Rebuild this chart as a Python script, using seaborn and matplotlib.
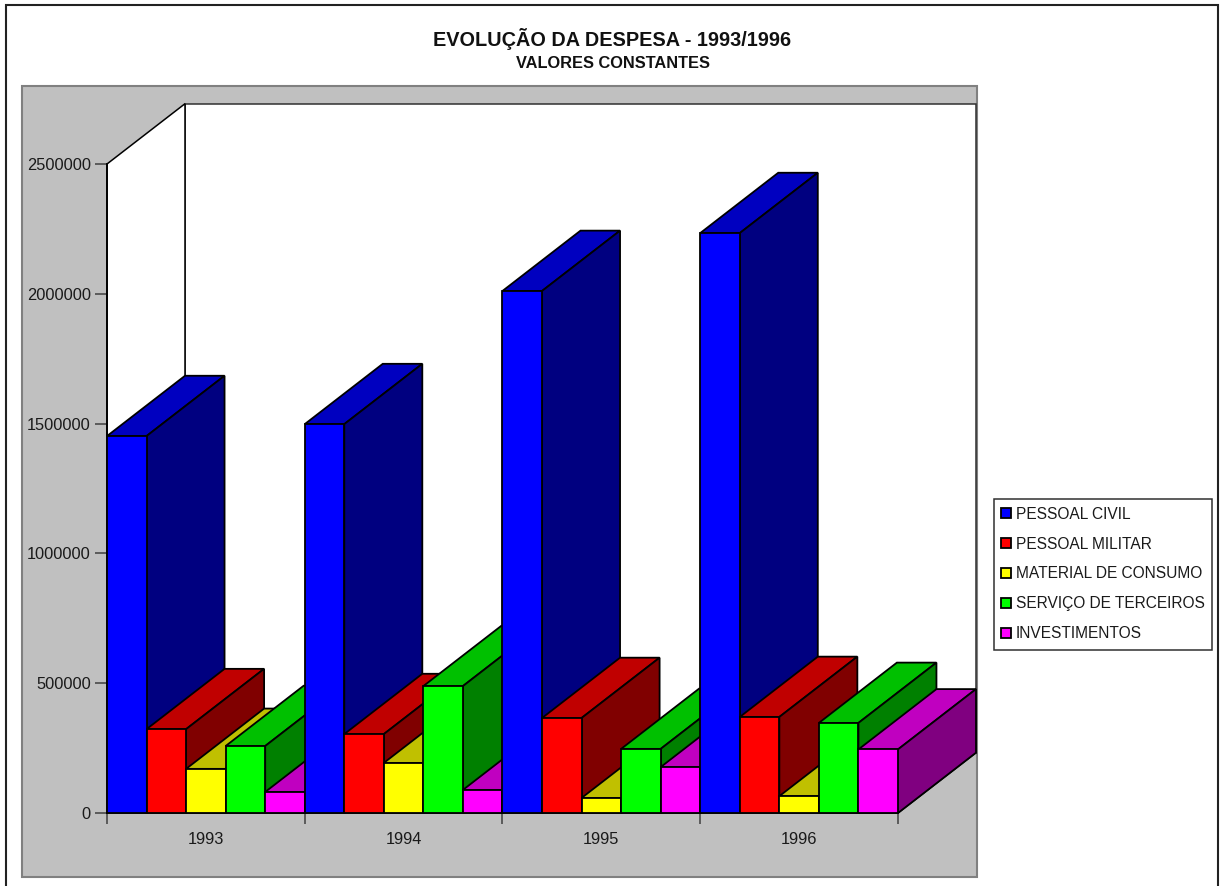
import matplotlib
matplotlib.use("Agg")
import matplotlib.pyplot as plt
from matplotlib.patches import Patch, Polygon, Rectangle
import pandas as pd
import seaborn as sns

years = ["1993", "1994", "1995", "1996"]
series_names = ["PESSOAL CIVIL", "PESSOAL MILITAR", "MATERIAL DE CONSUMO",
                "SERVIÇO DE TERCEIROS", "INVESTIMENTOS"]
pessoal_civil = [1452000, 1498000, 2011000, 2234000]
pessoal_militar = [323000, 304000, 366000, 370000]
material_consumo = [170000, 193000, 58000, 65000]
servico_terceiros = [258000, 489000, 247000, 347000]
investimentos = [81000, 89000, 177000, 245000]
y_ticks = [0, 500000, 1000000, 1500000, 2000000, 2500000]

front_colors = ["#0000FF", "#FF0000", "#FFFF00", "#00FF00", "#FF00FF"]
top_colors = ["#0000C0", "#C00000", "#C0C000", "#00C000", "#C000C0"]
side_colors = ["#000080", "#800000", "#808000", "#008000", "#800080"]
GREY = "#C0C0C0"
W, H = 1220, 886
INK = "#1a1a1a"
LW = 1.3

sns.set_theme(style="white")
plt.rcParams["font.family"] = ["Liberation Sans", "DejaVu Sans"]

df = pd.DataFrame({
    "ano": years * 5,
    "serie": [n for n in series_names for _ in years],
    "valor": pessoal_civil + pessoal_militar + material_consumo
             + servico_terceiros + investimentos,
})

fig = plt.figure(figsize=(W / 100, H / 100), dpi=100, facecolor="white")


def fx(px):
    return px / W


def fy(py):
    return 1 - py / H


def panel(x0, y0, x1, y1, **kw):
    fig.add_artist(Rectangle((fx(x0), fy(y1)), fx(x1) - fx(x0), fy(y0) - fy(y1),
                             transform=fig.transFigure, zorder=-1, **kw))


# outer chart frame, grey plot panel and legend box
panel(6, 5, 1218, 900, facecolor="white", edgecolor="#222222", linewidth=1.5)
panel(22, 86, 977, 877, facecolor=GREY, edgecolor="#808080", linewidth=1.5)
panel(994, 499, 1212, 650, facecolor="white", edgecolor="#303030", linewidth=1.1)

ax = fig.add_axes([fx(107), fy(813), fx(898) - fx(107), fy(164) - fy(813)])
ax.patch.set_visible(False)

sns.barplot(data=df, x="ano", y="valor", hue="serie", order=years,
            hue_order=series_names, palette=front_colors, saturation=1,
            width=1, gap=0, dodge=True, errorbar=None, edgecolor="black",
            linewidth=LW, legend=False, ax=ax)
ax.set_xlim(-0.5, 3.5)
ax.set_ylim(0, 2500000)
ax.set_xlabel("")
ax.set_ylabel("")

# receding depth of the pseudo-3D box, in data units
dx = 78 / (791 / 4)
dy = 60.3 / (649 / 2500000)
x0, x1 = -0.5, 3.5
ymax = 2500000


def face(points, color, z, edge="black", lw=LW):
    ax.add_patch(Polygon(points, closed=True, facecolor=color, edgecolor=edge,
                         linewidth=lw, zorder=z, clip_on=False,
                         joinstyle="miter"))


# white walls behind the bars and the grey floor
face([(x0 + dx, dy), (x1 + dx, dy), (x1 + dx, ymax + dy), (x0 + dx, ymax + dy)],
     "white", 0.5, edge="#303030", lw=1.1)
face([(x0, 0), (x0 + dx, dy), (x0 + dx, ymax + dy), (x0, ymax)], "white", 0.6, lw=1.1)
face([(x0, 0), (x1, 0), (x1 + dx, dy), (x0 + dx, dy)], GREY, 0.7, lw=1.1)

# each bar gets a top and a side face; later bars paint over earlier ones
for s, container in enumerate(ax.containers):
    for bar in container:
        left = bar.get_x()
        right = left + bar.get_width()
        top = bar.get_height()
        z = 3 + left
        bar.set_zorder(z + 0.02)
        face([(left, top), (right, top), (right + dx, top + dy), (left + dx, top + dy)],
             top_colors[s], z)
        face([(right, 0), (right + dx, dy), (right + dx, top + dy), (right, top)],
             side_colors[s], z + 0.01)

# value axis
ax.set_yticks(y_ticks, [str(v) for v in y_ticks])
ax.tick_params(axis="y", length=8.6, width=1.1, color="#404040", pad=3,
               labelsize=11.8, labelcolor=INK, left=True)

# category labels sit at the group centres, tick marks at the boundaries
ax.set_xticks(range(len(years)), years)
ax.tick_params(axis="x", which="major", length=0, pad=13.7, labelsize=11.8,
               labelcolor=INK)
ax.set_xticks([-0.5, 0.5, 1.5, 2.5, 3.5], minor=True)
ax.tick_params(axis="x", which="minor", length=8, width=1.1, color="#404040",
               bottom=True)

for name, spine in ax.spines.items():
    spine.set_visible(name in ("left", "bottom"))
    spine.set_color("black")
    spine.set_linewidth(LW)

fig.text(fx(612.5), fy(39), "EVOLUÇÃO DA DESPESA - 1993/1996", ha="center",
         va="center", fontsize=14.35, fontweight="bold", color="#111111")
fig.text(fx(613), fy(64), "VALORES CONSTANTES", ha="center", va="center",
         fontsize=11.8, fontweight="bold", color="#111111")

handles = [Patch(facecolor=c, edgecolor="black", linewidth=1.3, label=n)
           for c, n in zip(front_colors, series_names)]
legend = fig.legend(handles=handles, loc="center left",
                    bbox_to_anchor=(fx(994), fy(574)),
                    bbox_transform=fig.transFigure, fontsize=11.2,
                    frameon=False,
                    handlelength=0.65, handleheight=0.65, handletextpad=0.33,
                    labelspacing=0.96, borderpad=0.42, borderaxespad=0,
                    labelcolor=INK)

fig.savefig("out.png", dpi=100)
